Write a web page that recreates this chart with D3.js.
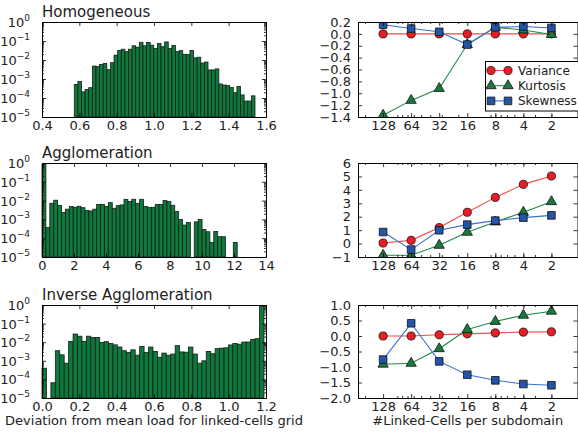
<!DOCTYPE html>
<html><head><meta charset="utf-8">
<script src="https://cdn.jsdelivr.net/npm/d3@7"></script>
<style>body{margin:0;background:#fff}svg{display:block;font-family:"DejaVu Sans",sans-serif}</style>
</head><body><svg id="c" width="578" height="434"></svg>
<script>
// ---------- data ----------
const histTitles = ["Homogeneous", "Agglomeration", "Inverse Agglomeration"];
const homRange = [0.573, 1.541];
const homValues = [5.2e-4,7.4e-4,2.1e-4,2.8e-4,3.5e-4,4.8e-3,4.5e-3,5.9e-3,6.6e-3,3.1e-3,
  7.2e-3,1.8e-2,3.2e-2,3.7e-2,2.75e-2,3.7e-2,5.6e-2,4.7e-2,8.5e-2,5.6e-2,
  8.3e-2,6.0e-2,4.0e-2,7.4e-2,5.0e-2,8.9e-2,4.1e-2,5.9e-2,2.75e-2,3.1e-2,
  2.0e-2,1.9e-2,3.2e-2,1.3e-2,1.4e-2,6.9e-3,7.8e-3,3.0e-3,3.0e-3,3.4e-3,
  5.5e-4,4.8e-4,4.5e-4,3.6e-4,1.9e-4,4.0e-4,1.45e-4,6.9e-5,6.9e-5,1.3e-4];
const aggRange = [0, 12.2];
const aggValues = [0.85,3.7e-4,7.2e-3,1.05e-2,5.6e-3,2.3e-3,3.5e-3,4.8e-3,4.4e-3,5.0e-3,
  4.2e-3,3.0e-3,2.8e-3,3.5e-3,6.3e-3,6.3e-3,4.8e-3,7.8e-3,3.9e-3,5.4e-3,
  5.9e-3,1.17e-2,8.9e-3,1.17e-2,7.2e-3,1.17e-2,4.8e-3,4.4e-3,4.4e-3,6.3e-3,
  6.3e-3,1.0e-2,8.9e-3,5.6e-3,2.6e-3,1.0e-3,5.0e-4,6.9e-4,0,7.4e-4,
  1.0e-3,2.9e-4,2.2e-4,5.9e-5,2.3e-4,1.2e-4,1.2e-4,0,0,5.9e-5];
const invRange = [0, 1.189];
const invValues = [4.0e-4,0,6.6e-5,3.5e-3,2.1e-3,7.4e-4,1.1e-2,2.75e-2,2.1e-2,1.1e-2,
  2.1e-2,1.8e-2,1.8e-2,9.8e-3,1.07e-2,8.5e-3,7.2e-3,5.5e-3,3.5e-3,2.8e-3,
  3.9e-3,2.0e-3,5.9e-3,2.8e-3,5.5e-3,3.2e-3,1.55e-3,2.6e-3,2.0e-3,2.3e-3,
  6.5e-3,3.0e-3,2.9e-3,5.5e-3,2.3e-3,7.4e-4,1.0e-3,3.2e-3,2.4e-3,4.5e-3,
  4.8e-3,5.0e-3,7.1e-3,8.5e-3,7.8e-3,1.02e-2,1.02e-2,1.4e-2,1.55e-2,0.85];
const homXTicks = [0.4, 0.6, 0.8, 1.0, 1.2, 1.4, 1.6];
const aggXTicks = [0, 2, 4, 6, 8, 10, 12, 14];
const invXTicks = [0.0, 0.2, 0.4, 0.6, 0.8, 1.0, 1.2];
const histYTicks = [1, 1e-1, 1e-2, 1e-3, 1e-4, 1e-5];

const linkedCells = [128, 64, 32, 16, 8, 4, 2];
const seriesNames = ["Variance", "Kurtosis", "Skewness"];
const homVariance = [0, 0, 0, 0, 0, 0, 0];
const homKurtosis = [-1.37, -1.12, -0.92, -0.18, 0.11, 0.065, -0.01];
const homSkewness = [0.155, 0.09, 0.035, -0.18, 0.11, 0.125, 0.10];
const aggVariance = [0.04, 0.24, 1.19, 2.33, 3.44, 4.41, 5.03];
const aggKurtosis = [-0.87, -0.87, -0.13, 0.84, 1.61, 2.33, 3.12];
const aggSkewness = [0.86, -0.45, 0.99, 1.41, 1.71, 1.93, 2.10];
const invVariance = [0.0, 0.0, 0.04, 0.07, 0.10, 0.125, 0.135];
const invKurtosis = [-0.91, -0.88, -0.41, 0.21, 0.47, 0.67, 0.80];
const invSkewness = [-0.76, 0.41, -0.82, -1.25, -1.43, -1.55, -1.59];
const homYTicks = [0.2, 0.0, -0.2, -0.4, -0.6, -0.8, -1.0, -1.2, -1.4];
const aggYTicks = [-1, 0, 1, 2, 3, 4, 5, 6];
const invYTicks = [1.0, 0.5, 0.0, -0.5, -1.0, -1.5, -2.0];
const xLabelLeft = "Deviation from mean load for linked-cells grid";
const xLabelRight = "#Linked-Cells per subdomain";

// ---------- drawing ----------
const svg = d3.select("#c");
const FONT = '"DejaVu Sans", sans-serif';
const minus = s => s.replace(/-/g, "\u2212");

const rows = [{top: 22, bottom: 117}, {top: 163, bottom: 257}, {top: 305, bottom: 398}];
const HL = 42, HR = 266, LL = 358, LR = 577.5;

function styleAxis(g, showText) {
  g.attr("font-family", FONT).attr("font-size", 13);
  g.select(".domain").attr("stroke", "#000").attr("stroke-width", 1);
  g.selectAll(".tick line").attr("stroke", "#000").attr("stroke-width", 0.8);
  g.selectAll(".tick text").attr("fill", "#222");
  if (!showText) g.selectAll(".tick text").remove();
}

function minorLog(lo, hi) {
  const out = [];
  for (let e = -6; e <= 3; e++) for (let k = 2; k <= 9; k++) {
    const v = k * Math.pow(10, e);
    if (v > Math.min(lo, hi) && v < Math.max(lo, hi)) out.push(v);
  }
  return out;
}

const histData = [[homRange, homValues, homXTicks], [aggRange, aggValues, aggXTicks], [invRange, invValues, invXTicks]];

histData.forEach(([range, values, xt], i) => {
  const {top, bottom} = rows[i];
  const x = d3.scaleLinear().domain([xt[0], xt[xt.length - 1]]).range([HL, HR]);
  const y = d3.scaleLog().domain([1e-5, 1]).range([bottom, top]);
  const n = values.length, w = (range[1] - range[0]) / n;
  const g = svg.append("g");
  g.selectAll("rect").data(values.map((v, j) => ({v, j})).filter(d => d.v > 0)).join("rect")
    .attr("x", d => x(range[0] + d.j * w))
    .attr("width", d => x(range[0] + (d.j + 1) * w) - x(range[0] + d.j * w))
    .attr("y", d => y(d.v))
    .attr("height", d => bottom - y(d.v))
    .attr("fill", "#0b7a3b").attr("stroke", "#1b1b1b").attr("stroke-width", 0.8);

  const minors = minorLog(1e-5, 1);
  const ab = g.append("g").attr("transform", `translate(0,${bottom})`)
    .call(d3.axisBottom(x).tickValues(xt).tickSize(-4).tickSizeOuter(0).tickPadding(4)
      .tickFormat(d => (xt[1] - xt[0]) < 1 ? d3.format(".1f")(d) : d3.format("d")(d)));
  styleAxis(ab, true);
  const at = g.append("g").attr("transform", `translate(0,${top})`)
    .call(d3.axisTop(x).tickValues(xt).tickSize(-4).tickSizeOuter(0));
  styleAxis(at, false);
  const al = g.append("g").attr("transform", `translate(${HL},0)`)
    .call(d3.axisLeft(y).tickValues(histYTicks).tickSize(-4).tickSizeOuter(0).tickPadding(12).tickFormat(() => ""));
  styleAxis(al, true);
  al.selectAll(".tick text").each(function(d) {
    const e = Math.round(Math.log10(d));
    const t = d3.select(this).attr("dy", "0.35em");
    t.append("tspan").text("10");
    t.append("tspan").attr("dy", -6).attr("font-size", 9).text(e === 0 ? "0" : "\u2212" + (-e));
  });
  const alm = g.append("g").attr("transform", `translate(${HL},0)`)
    .call(d3.axisLeft(y).tickValues(minors).tickSize(-2).tickSizeOuter(0));
  styleAxis(alm, false);
  const ar = g.append("g").attr("transform", `translate(${HR},0)`)
    .call(d3.axisRight(y).tickValues(histYTicks).tickSize(-4).tickSizeOuter(0));
  styleAxis(ar, false);
  const arm = g.append("g").attr("transform", `translate(${HR},0)`)
    .call(d3.axisRight(y).tickValues(minors).tickSize(-2).tickSizeOuter(0));
  styleAxis(arm, false);

  g.append("text").attr("x", HL).attr("y", top - 5.5).attr("font-family", FONT)
    .attr("font-size", 15).attr("fill", "#222").text(histTitles[i]);
});

svg.append("text").attr("x", (HL + HR) / 2).attr("y", 425).attr("text-anchor", "middle")
  .attr("font-family", FONT).attr("font-size", 13).attr("fill", "#222").text(xLabelLeft);
svg.append("text").attr("x", (LL + LR) / 2).attr("y", 425).attr("text-anchor", "middle")
  .attr("font-family", FONT).attr("font-size", 13).attr("fill", "#222").text(xLabelRight);

// ---------- line panels ----------
const lineData = [
  [[homVariance, homKurtosis, homSkewness], homYTicks],
  [[aggVariance, aggKurtosis, aggSkewness], aggYTicks],
  [[invVariance, invKurtosis, invSkewness], invYTicks]
];
const lineColors = ["#f24b4b", "#1f8a47", "#3b6fcc"];
const markFill = ["#ec1c24", "#1a7a3e", "#2354a8"];
const markSym = [d3.symbolCircle, d3.symbolTriangle, d3.symbolSquare];
const markSize = [52, 46, 58];

lineData.forEach(([series, yt], i) => {
  const {top, bottom} = rows[i];
  const x = d3.scaleLog().domain([238, 1.05]).range([LL, LR]);
  const ext = d3.extent(yt);
  const y = d3.scaleLinear().domain(ext).range([bottom, top]);
  const g = svg.append("g");
  const cid = "clip" + i;
  g.append("clipPath").attr("id", cid).append("rect")
    .attr("x", LL).attr("y", top).attr("width", LR - LL).attr("height", bottom - top);
  const pg = g.append("g").attr("clip-path", `url(#${cid})`);
  series.forEach((vals, s) => {
    const pts = vals.map((v, j) => [linkedCells[j], v]);
    pg.append("path").datum(pts)
      .attr("d", d3.line().x(d => x(d[0])).y(d => y(d[1])))
      .attr("fill", "none").attr("stroke", lineColors[s]).attr("stroke-width", 1.1);
    pg.selectAll(null).data(pts).join("path")
      .attr("transform", d => `translate(${x(d[0])},${y(d[1])})`)
      .attr("d", d3.symbol().type(markSym[s]).size(markSize[s]))
      .attr("fill", markFill[s]).attr("stroke", "#111").attr("stroke-width", 0.8);
  });
  const minors = minorLog(1.05, 238);
  const fmt = (yt[0] % 1 !== 0 || yt[1] % 1 !== 0) ? d3.format(".1f") : d3.format("d");
  const ab = g.append("g").attr("transform", `translate(0,${bottom})`)
    .call(d3.axisBottom(x).tickValues(linkedCells).tickSize(-4).tickSizeOuter(0).tickPadding(4).tickFormat(d3.format("d")));
  styleAxis(ab, true);
  const abm = g.append("g").attr("transform", `translate(0,${bottom})`)
    .call(d3.axisBottom(x).tickValues(minors).tickSize(-2).tickSizeOuter(0));
  styleAxis(abm, false);
  const at = g.append("g").attr("transform", `translate(0,${top})`)
    .call(d3.axisTop(x).tickValues(linkedCells).tickSize(-4).tickSizeOuter(0));
  styleAxis(at, false);
  const atm = g.append("g").attr("transform", `translate(0,${top})`)
    .call(d3.axisTop(x).tickValues(minors).tickSize(-2).tickSizeOuter(0));
  styleAxis(atm, false);
  const al = g.append("g").attr("transform", `translate(${LL},0)`)
    .call(d3.axisLeft(y).tickValues(yt).tickSize(-4).tickSizeOuter(0).tickPadding(7).tickFormat(d => minus(fmt(d))));
  styleAxis(al, true);
  const ar = g.append("g").attr("transform", `translate(${LR},0)`)
    .call(d3.axisRight(y).tickValues(yt).tickSize(-4).tickSizeOuter(0));
  styleAxis(ar, false);

  if (i === 0) {
    const lg = g.append("g");
    lg.append("rect").attr("x", 485.5).attr("y", 61.5).attr("width", 95).attr("height", 49.5)
      .attr("fill", "#fff").attr("stroke", "#000").attr("stroke-width", 1);
    seriesNames.forEach((name, s) => {
      const yy = 70.5 + s * 15.2;
      lg.append("line").attr("x1", 491).attr("x2", 508).attr("y1", yy).attr("y2", yy)
        .attr("stroke", lineColors[s]).attr("stroke-width", 1.1);
      [491, 508].forEach(xx => lg.append("path").attr("transform", `translate(${xx},${yy})`)
        .attr("d", d3.symbol().type(markSym[s]).size(markSize[s]))
        .attr("fill", markFill[s]).attr("stroke", "#111").attr("stroke-width", 0.8));
      lg.append("text").attr("x", 518).attr("y", yy).attr("dy", "0.35em")
        .attr("font-family", FONT).attr("font-size", 12).attr("fill", "#222").text(name);
    });
  }
});
</script></body></html>
